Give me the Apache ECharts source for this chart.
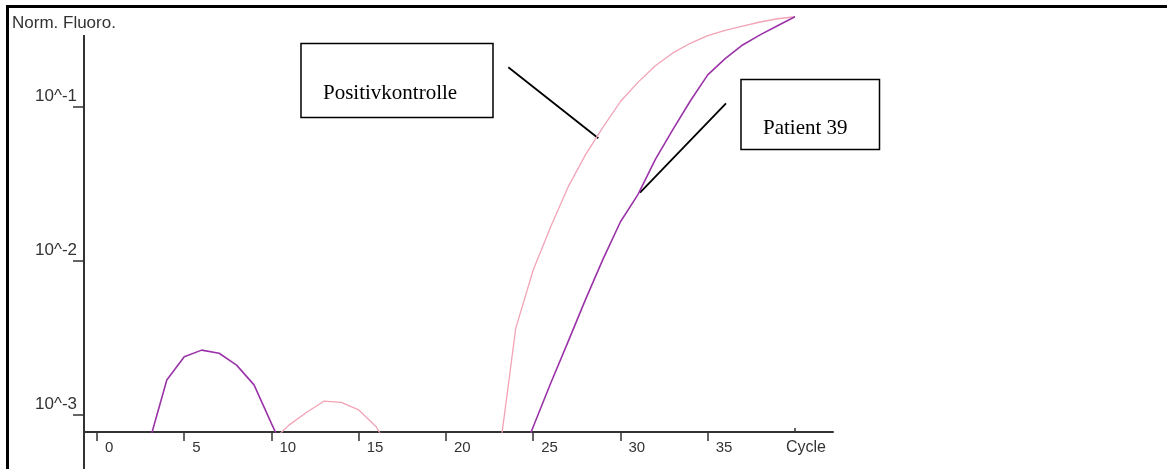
<!DOCTYPE html>
<html>
<head>
<meta charset="utf-8">
<title>Norm. Fluoro. vs Cycle</title>
<script src="https://cdn.jsdelivr.net/npm/echarts@6/dist/echarts.min.js"></script>
<style>
  html, body { margin: 0; padding: 0; background: #fff; }
  #chart { width: 1167px; height: 469px; }
</style>
</head>
<body>
<div id="chart"></div>
<script>
// PCR cycle number (x axis)
const cycles = [1, 2, 3, 4, 5, 6, 7, 8, 9, 10,
                11, 12, 13, 14, 15, 16, 17, 18, 19, 20,
                21, 22, 23, 24, 25, 26, 27, 28, 29, 30,
                31, 32, 33, 34, 35, 36, 37, 38, 39, 40];

// Normalised fluorescence, positive control (null = no reading shown)
const positivkontrolle = [null, null, null, null, null, null, null, null, null, 0.00067,
                          0.00086, 0.00104, 0.00123, 0.00121, 0.00108, 0.00084, 0.00054, null, null, null,
                          null, null, 0.00050, 0.00367, 0.00875, 0.0167, 0.0303, 0.0491, 0.0740, 0.1086,
                          0.1445, 0.1853, 0.2246, 0.2593, 0.2904, 0.3148, 0.3357, 0.3565, 0.3743, 0.3855];

// Normalised fluorescence, patient 39
const patient39 = [null, null, 0.00067, 0.00169, 0.00239, 0.00264, 0.00252, 0.00211, 0.00157, 0.00088,
                   0.00050, null, null, null, null, null, null, null, null, null,
                   null, null, null, 0.00044, 0.00084, 0.00161, 0.00300, 0.00564, 0.0103, 0.0180,
                   0.0270, 0.0457, 0.0714, 0.1094, 0.1618, 0.206, 0.253, 0.294, 0.337, 0.3855];

// Axis ticks
const xTicks = [0, 5, 10, 15, 20, 25, 30, 35];
const xEndTick = [40];
const yDecades = [-3, -2, -1];   // log10 of 10^-3, 10^-2, 10^-1

const toLog = v => (v == null ? null : Math.log10(v));
const pairs = vals => cycles.map((c, i) => [c, toLog(vals[i])]);

const AXIS = '#333';
const X_MIN = -0.745, X_MAX = 42.18;

const chart = echarts.init(document.getElementById('chart'), null, { renderer: 'canvas' });

chart.setOption({
  animation: false,
  backgroundColor: '#fff',
  title: {
    text: 'Norm. Fluoro.',
    left: 12,
    top: 15,
    padding: 0,
    textStyle: { fontFamily: 'Liberation Sans', fontSize: 17, fontWeight: 'normal', color: AXIS }
  },
  grid: { left: 84, right: 334, top: 14, bottom: 37, containLabel: false },
  xAxis: [{
    type: 'value',
    min: X_MIN,
    max: X_MAX,
    splitLine: { show: false },
    axisLine: { show: true, onZero: false, lineStyle: { color: AXIS, width: 2 } },
    axisTick: { show: true, customValues: xTicks, length: 9, lineStyle: { color: AXIS, width: 1.5 } },
    axisLabel: {
      show: true,
      customValues: xTicks,
      align: 'left',
      padding: [0, 0, 0, 8],
      margin: 8,
      fontFamily: 'Liberation Sans',
      fontSize: 15,
      color: AXIS
    },
    name: 'Cycle',
    nameLocation: 'end',
    nameGap: -47,
    nameMoveOverlap: false,
    nameTextStyle: {
      fontFamily: 'Liberation Sans', fontSize: 16, color: AXIS,
      align: 'left', verticalAlign: 'top', padding: [8, 0, 0, 0]
    }
  }, {
    type: 'value',
    position: 'bottom',
    min: X_MIN,
    max: X_MAX,
    splitLine: { show: false },
    axisLine: { show: false, onZero: false },
    axisTick: { show: true, inside: true, customValues: xEndTick, length: 4, lineStyle: { color: AXIS, width: 1.5 } },
    axisLabel: { show: false }
  }],
  yAxis: {
    type: 'value',
    min: -3.11,
    max: -0.396,
    splitLine: { show: false },
    axisLine: { show: false, onZero: false },
    axisTick: { show: true, customValues: yDecades, length: 11, lineStyle: { color: AXIS, width: 1.5 } },
    axisLabel: {
      show: true,
      customValues: yDecades,
      formatter: v => '10^' + v,
      margin: 7,
      verticalAlign: 'bottom',
      padding: [0, 0, 2, 0],
      fontFamily: 'Liberation Sans',
      fontSize: 17,
      color: AXIS
    }
  },
  series: [{
    name: 'Positivkontrolle',
    type: 'line',
    data: pairs(positivkontrolle),
    showSymbol: false,
    connectNulls: false,
    clip: true,
    lineStyle: { color: '#f2a3b6', width: 1.3 },
    itemStyle: { color: '#f2a3b6' },
    z: 3
  }, {
    name: 'Patient 39',
    type: 'line',
    data: pairs(patient39),
    showSymbol: false,
    connectNulls: false,
    clip: true,
    lineStyle: { color: '#9a33a8', width: 1.6 },
    itemStyle: { color: '#9a33a8' },
    z: 4
  }],
  graphic: [
    // outer frame (top and left edges)
    { type: 'line', shape: { x1: 6, y1: 6.5, x2: 1167, y2: 6.5 }, style: { stroke: '#000', lineWidth: 3 } },
    { type: 'line', shape: { x1: 7.5, y1: 5, x2: 7.5, y2: 469 }, style: { stroke: '#000', lineWidth: 3 } },
    // vertical axis line, running past the cycle axis
    { type: 'line', shape: { x1: 84, y1: 35, x2: 84, y2: 469 }, style: { stroke: AXIS, lineWidth: 2 } },
    // callout: positive control
    { type: 'rect', shape: { x: 301, y: 43.5, width: 192, height: 74 },
      style: { fill: '#fff', stroke: '#000', lineWidth: 1.5 } },
    { type: 'text', style: { text: 'Positivkontrolle', x: 323, y: 93, verticalAlign: 'middle',
      font: '21px "Liberation Serif"', fill: '#000' } },
    { type: 'line', shape: { x1: 508.3, y1: 67.3, x2: 598.3, y2: 138.3 }, style: { stroke: '#000', lineWidth: 1.8 } },
    // callout: patient 39
    { type: 'rect', shape: { x: 741, y: 79.5, width: 138.5, height: 70 },
      style: { fill: '#fff', stroke: '#000', lineWidth: 1.5 } },
    { type: 'text', style: { text: 'Patient 39', x: 763, y: 128, verticalAlign: 'middle',
      font: '21px "Liberation Serif"', fill: '#000' } },
    { type: 'line', shape: { x1: 726, y1: 103.3, x2: 640, y2: 192.7 }, style: { stroke: '#000', lineWidth: 1.8 } }
  ]
});
</script>
</body>
</html>
